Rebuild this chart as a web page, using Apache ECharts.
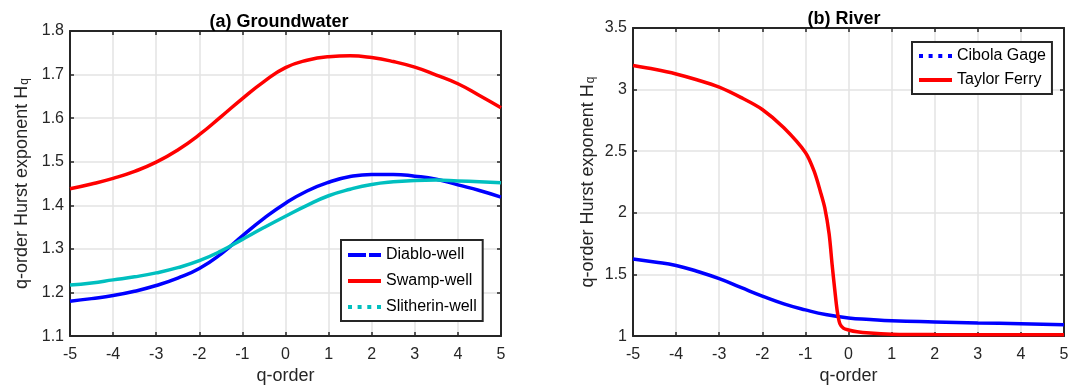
<!DOCTYPE html>
<html>
<head>
<meta charset="utf-8">
<script src="https://cdn.jsdelivr.net/npm/echarts@6/dist/echarts.min.js"></script>
<style>html,body{margin:0;padding:0;background:#fff}#c{width:1079px;height:390px}</style>
</head>
<body>
<div id="c"></div>
<script>
// ---- Data ----
const qLeft = [-5,-4.5,-4,-3.5,-3,-2.5,-2,-1.5,-1,-0.5,0,0.5,1,1.5,2,2.5,3,3.5,4,4.5,5];
const diablo = [1.180,1.186,1.193,1.203,1.216,1.233,1.255,1.288,1.330,1.370,1.405,1.433,1.453,1.466,1.471,1.471,1.467,1.460,1.447,1.434,1.419];
const swamp = [1.438,1.449,1.462,1.478,1.499,1.527,1.562,1.603,1.645,1.684,1.716,1.733,1.741,1.743,1.739,1.730,1.717,1.699,1.679,1.652,1.624];
const slitherin = [1.217,1.222,1.229,1.236,1.245,1.257,1.273,1.295,1.322,1.349,1.375,1.400,1.422,1.437,1.448,1.454,1.457,1.458,1.456,1.454,1.452];

const qCibola = [-5,-4.5,-4,-3.5,-3,-2.5,-2,-1.5,-1,-0.5,0,0.5,1,2,3,4,5];
const cibola = [1.626,1.602,1.573,1.524,1.466,1.395,1.325,1.262,1.213,1.173,1.147,1.135,1.125,1.115,1.107,1.101,1.093];
const qTaylor = [-5,-4.5,-4,-3.5,-3,-2.5,-2,-1.5,-1,-0.8,-0.65,-0.55,-0.45,-0.38,-0.32,-0.26,-0.2,-0.12,0,0.2,0.5,1,1.5,2,3,4,5];
const taylor = [3.196,3.165,3.127,3.078,3.020,2.937,2.839,2.690,2.490,2.340,2.170,2.040,1.830,1.580,1.380,1.200,1.100,1.065,1.050,1.035,1.025,1.016,1.013,1.012,1.011,1.010,1.010];

const xTicksMin = -5, xTicksMax = 5;
const titles = ['(a) Groundwater', '(b) River'];
const yName = 'q-order Hurst exponent H{sub|q}';
const xName = 'q-order';

const pair = (xs, ys) => xs.map((x, i) => [x, ys[i]]);

const TXT = '#262626';
const FONT = '"Liberation Sans", Arial, Helvetica, sans-serif';
const GRIDC = '#e3e3e3';

const dashIcon = 'path://M0,0H18V4H0Z M21,0H33V4H21Z';
const dotIcon = 'path://M0,0H4V4H0Z M9.6,0H13.6V4H9.6Z M19.3,0H23.3V4H19.3Z M29,0H33V4H29Z';
const solidIcon = 'path://M0,0H33V4H0Z';

function xAxisMain(gi) {
  return {
    type: 'value', gridIndex: gi, min: xTicksMin, max: xTicksMax, interval: 1, position: 'bottom',
    name: xName, nameLocation: 'middle', nameGap: 28,
    nameTextStyle: { fontSize: 18, color: TXT, fontFamily: FONT },
    axisLine: { show: true, onZero: false, lineStyle: { color: TXT, width: 2 } },
    axisTick: { show: true, inside: true, length: 4, lineStyle: { color: TXT, width: 1.5 } },
    axisLabel: { fontSize: 16, color: TXT, fontFamily: FONT, margin: 10 },
    splitLine: { show: true, lineStyle: { color: GRIDC, width: 1.5 } }
  };
}
function xAxisTop(gi) {
  return {
    type: 'value', gridIndex: gi, min: xTicksMin, max: xTicksMax, interval: 1, position: 'top',
    axisLine: { show: true, onZero: false, lineStyle: { color: TXT, width: 2 } },
    axisTick: { show: true, inside: true, length: 4, lineStyle: { color: TXT, width: 1.5 } },
    axisLabel: { show: false }, splitLine: { show: false }
  };
}
function yAxisMain(gi, min, max, interval, gap, fmt) {
  return {
    type: 'value', gridIndex: gi, min: min, max: max, interval: interval, position: 'left',
    name: yName, nameLocation: 'middle', nameGap: gap, nameRotate: 90,
    nameTextStyle: { fontSize: 18, color: TXT, fontFamily: FONT,
      rich: { sub: { fontSize: 12, color: TXT, fontFamily: FONT, verticalAlign: 'bottom', padding: [0,0,0,1] } } },
    axisLine: { show: true, onZero: false, lineStyle: { color: TXT, width: 2 } },
    axisTick: { show: true, inside: true, length: 4, lineStyle: { color: TXT, width: 1.5 } },
    axisLabel: { fontSize: 16, color: TXT, fontFamily: FONT, margin: 6, formatter: fmt },
    splitLine: { show: true, lineStyle: { color: GRIDC, width: 1.5 } }
  };
}
function yAxisRight(gi, min, max, interval) {
  return {
    type: 'value', gridIndex: gi, min: min, max: max, interval: interval, position: 'right',
    axisLine: { show: true, onZero: false, lineStyle: { color: TXT, width: 2 } },
    axisTick: { show: true, inside: true, length: 4, lineStyle: { color: TXT, width: 1.5 } },
    axisLabel: { show: false }, splitLine: { show: false }
  };
}
function lineSeries(name, data, color, xi, yi, smooth) {
  return {
    type: 'line', name: name, data: data, xAxisIndex: xi, yAxisIndex: yi,
    smooth: smooth, showSymbol: false, symbol: 'none',
    lineStyle: { color: color, width: 3.5 }, itemStyle: { color: color }, z: 3
  };
}

const chart = echarts.init(document.getElementById('c'), null, { renderer: 'canvas' });
chart.setOption({
  animation: false,
  backgroundColor: '#fff',
  title: [
    { text: titles[0], left: 274, top: 8, textAlign: 'center',
      textStyle: { fontSize: 18, fontWeight: 'bold', color: '#000', fontFamily: FONT } },
    { text: titles[1], left: 839, top: 5, textAlign: 'center',
      textStyle: { fontSize: 18, fontWeight: 'bold', color: '#000', fontFamily: FONT } }
  ],
  grid: [
    { left: 70, top: 31, width: 431, height: 313, containLabel: false },
    { left: 633, top: 28, width: 431, height: 312, containLabel: false }
  ],
  xAxis: [xAxisMain(0), xAxisTop(0), xAxisMain(1), xAxisTop(1)],
  yAxis: [
    yAxisMain(0, 1.1, 1.8, 0.1, 39, v => v.toFixed(1)),
    yAxisRight(0, 1.1, 1.8, 0.1),
    yAxisMain(1, 1, 3.5, 0.5, 36, v => String(+v.toFixed(1))),
    yAxisRight(1, 1, 3.5, 0.5)
  ],
  legend: [
    { orient: 'vertical', left: 341, top: 240, backgroundColor: '#fff',
      borderColor: TXT, borderWidth: 2, padding: [6, 6, 5, 7], itemGap: 8,
      itemWidth: 33, itemHeight: 4, symbolKeepAspect: false,
      itemStyle: { borderWidth: 0 },
      textStyle: { fontSize: 16, color: '#000', fontFamily: FONT, lineHeight: 18 },
      data: [
        { name: 'Diablo-well', icon: dashIcon, itemStyle: { color: '#0000ff', borderWidth: 0 } },
        { name: 'Swamp-well', icon: solidIcon, itemStyle: { color: '#ff0000', borderWidth: 0 } },
        { name: 'Slitherin-well', icon: dotIcon, itemStyle: { color: '#00bfbf', borderWidth: 0 } }
      ] },
    { orient: 'vertical', left: 912, top: 42, backgroundColor: '#fff',
      borderColor: TXT, borderWidth: 2, padding: [5, 6, 5, 7], itemGap: 6,
      itemWidth: 33, itemHeight: 4, symbolKeepAspect: false,
      itemStyle: { borderWidth: 0 },
      textStyle: { fontSize: 16, color: '#000', fontFamily: FONT, lineHeight: 18 },
      data: [
        { name: 'Cibola Gage', icon: dotIcon, itemStyle: { color: '#0000ff', borderWidth: 0 } },
        { name: 'Taylor Ferry', icon: solidIcon, itemStyle: { color: '#ff0000', borderWidth: 0 } }
      ] }
  ],
  series: [
    lineSeries('Diablo-well', pair(qLeft, diablo), '#0000ff', 0, 0, 0.5),
    lineSeries('Swamp-well', pair(qLeft, swamp), '#ff0000', 0, 0, 0.5),
    lineSeries('Slitherin-well', pair(qLeft, slitherin), '#00bfbf', 0, 0, 0.5),
    lineSeries('Cibola Gage', pair(qCibola, cibola), '#0000ff', 2, 2, 0.5),
    lineSeries('Taylor Ferry', pair(qTaylor, taylor), '#ff0000', 2, 2, 0.3)
  ]
});
</script>
</body>
</html>
